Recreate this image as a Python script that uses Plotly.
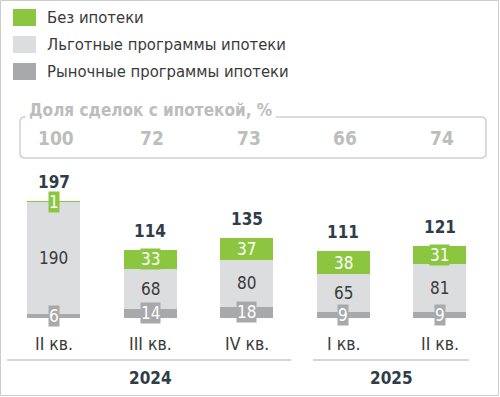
import plotly.graph_objects as go

# ---- data ----
quarters = ["II кв.", "III кв.", "IV кв.", "I кв.", "II кв."]
years = ["2024", "2024", "2024", "2025", "2025"]
no_mortgage = [1, 33, 37, 38, 31]
preferential = [190, 68, 80, 65, 81]
market = [6, 14, 18, 9, 9]
totals = [197, 114, 135, 111, 121]
mortgage_share = [100, 72, 73, 66, 74]
series_names = ["Без ипотеки", "Льготные программы ипотеки", "Рыночные программы ипотеки"]
share_title = "Доля сделок с ипотекой, %"

# ---- style ----
W, H = 500, 397
GREEN = "#8cc640"
LIGHT = "#dcdddf"
GREY = "#a7a9ab"
DARK = "#2f3d48"
TXT = "#3a3a3a"
PALE = "#bdbdbd"
FONT = "DejaVu Sans Condensed, DejaVu Sans"

def px(x):
    return x / W

def py(y):
    return 1 - y / H

fig = go.Figure()
xs = list(range(len(quarters)))

stack = [
    (market, GREY, "white", series_names[2]),
    (preferential, LIGHT, TXT, series_names[1]),
    (no_mortgage, GREEN, "white", series_names[0]),
]

for vals, col, tcol, name in stack:
    fig.add_trace(go.Bar(x=xs, y=vals, name=name, marker=dict(color=col, line=dict(width=0)),
                         showlegend=False, hoverinfo="skip"))

annotations = []
shapes = []

def ann(**kw):
    kw.setdefault("xanchor", "center")
    kw.setdefault("yanchor", "middle")
    kw.setdefault("showarrow", False)
    annotations.append(kw)

# segment labels
base = [0] * len(xs)
for vals, col, tcol, name in stack:
    for i, v in enumerate(vals):
        ann(x=i, y=base[i] + v / 2, xref="x", yref="y", text=str(v),
            font=dict(family=FONT, size=17, color=tcol), bgcolor=col, borderpad=0)
        base[i] += v

# totals
for i, t in enumerate(totals):
    ann(x=i, y=base[i], xref="x", yref="y", text="<b>%d</b>" % t,
        yanchor="bottom", yshift=8, borderpad=0, font=dict(family=FONT, size=17, color=DARK))

# quarter tick labels
for i, q in enumerate(quarters):
    ann(x=i, y=py(344), xref="x", yref="paper", text=q,
        font=dict(family=FONT, size=17.5, color=TXT))

# year labels + group lines
uniq_years = []
for y in years:
    if y not in uniq_years:
        uniq_years.append(y)
line_spans = {"2024": (7, 291), "2025": (313, 469)}
for yr in uniq_years:
    idx = [i for i, y in enumerate(years) if y == yr]
    ann(x=sum(idx) / len(idx), y=py(378), xref="x", yref="paper",
        text="<b>%s</b>" % yr, font=dict(family=FONT, size=17, color=DARK))
    a, b = line_spans[yr]
    shapes.append(dict(type="line", xref="paper", yref="paper", x0=px(a), x1=px(b),
                       y0=py(360), y1=py(360), line=dict(color="#c9c9c9", width=1.5)))

# share box
x0, x1, y0, y1, r = 20, 486, 117, 158, 5
path = (f"M {px(x0+r)},{py(y0)} L {px(x1-r)},{py(y0)} Q {px(x1)},{py(y0)} {px(x1)},{py(y0+r)} "
        f"L {px(x1)},{py(y1-r)} Q {px(x1)},{py(y1)} {px(x1-r)},{py(y1)} "
        f"L {px(x0+r)},{py(y1)} Q {px(x0)},{py(y1)} {px(x0)},{py(y1-r)} "
        f"L {px(x0)},{py(y0+r)} Q {px(x0)},{py(y0)} {px(x0+r)},{py(y0)} Z")
shapes.append(dict(type="path", xref="paper", yref="paper", path=path,
                   line=dict(color="#cfcfcf", width=1.5)))
ann(x=px(25), y=py(110), xref="paper", yref="paper", xanchor="left",
    text="<b>%s</b>" % share_title, bgcolor="white",
    borderpad=3, font=dict(family=FONT, size=17, color=PALE))
for i, s in enumerate(mortgage_share):
    ann(x=i, y=py(138), xref="x", yref="paper", text="<b>%d</b>" % s, xshift=2,
        font=dict(family=FONT, size=19, color=PALE))

# legend
legend_cols = [GREEN, LIGHT, GREY]
for k, (nm, col) in enumerate(zip(series_names, legend_cols)):
    top = 9 + k * 27
    shapes.append(dict(type="rect", xref="paper", yref="paper", x0=px(13), x1=px(36),
                       y0=py(top), y1=py(top + 17), fillcolor=col, line=dict(width=0)))
    ann(x=px(45), y=py(top + 8.5), xref="paper", yref="paper",
        xanchor="left", text=nm, font=dict(family=FONT, size=16.5, color=TXT))

# outer frame
shapes.append(dict(type="rect", xref="paper", yref="paper", x0=px(0.5), x1=px(W - 1.5),
                   y0=py(0.5), y1=py(H - 1.5), line=dict(color="#cccccc", width=1)))

k = 0.59
bottom_px = 317.5
fig.update_layout(
    width=W, height=H, autosize=False,
    margin=dict(l=0, r=0, t=0, b=0, pad=0),
    paper_bgcolor="white", plot_bgcolor="white",
    barmode="stack", bargap=0.45,
    xaxis=dict(range=[-53.5 / 96.6, -53.5 / 96.6 + W / 96.6], visible=False, fixedrange=True),
    yaxis=dict(range=[-(H - bottom_px) / k, bottom_px / k], visible=False, fixedrange=True),
    annotations=annotations, shapes=shapes,
    font=dict(family=FONT),
)

fig.write_html("out.html", config={"displayModeBar": False},
               post_script="document.body.style.margin='0';document.body.style.overflow='hidden';")
